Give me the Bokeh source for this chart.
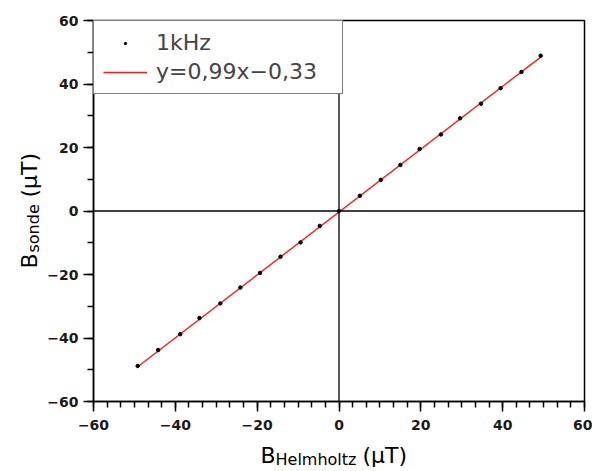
import math
from bokeh.plotting import figure
from bokeh.models import (Range1d, SingleIntervalTicker, Legend, LegendItem, Span)
from bokeh.layouts import row, column
from bokeh.core.properties import value
from bokeh.embed import file_html
from bokeh.resources import INLINE

# ---- data ----
b_helmholtz = [-49.2, -44.2, -38.8, -34.1, -29.0, -24.1, -19.3, -14.3, -9.4, -4.7,
               0.0, 5.1, 10.2, 15.0, 19.7, 24.9, 29.6, 34.7, 39.5, 44.6, 49.3]
b_sonde = [-48.8, -43.8, -38.8, -33.7, -29.1, -24.1, -19.5, -14.4, -9.9, -4.7,
           0.0, 4.8, 9.8, 14.5, 19.5, 24.1, 29.2, 33.8, 38.7, 43.8, 48.9]
fit_slope = 0.99
fit_intercept = -0.33
fit_x = [min(b_helmholtz), max(b_helmholtz)]
fit_y = [fit_slope * v + fit_intercept for v in fit_x]
series_label = "1kHz"
fit_label = "y=0,99x\u22120,33"
tick_values = [-60, -40, -20, 0, 20, 40, 60]
x_title = ["B", "Helmholtz", "(\u00b5T)"]
y_title = ["B", "sonde", "(\u00b5T)"]

# ---- layout (pixels) ----
TOTAL_W, TOTAL_H = 592, 471
FRAME_L, FRAME_R, FRAME_T, FRAME_B = 93, 584, 20, 401
LW = 44                       # left strip holding the y title
MW = TOTAL_W - LW             # main figure width
MH = 437                      # main figure height
BH = TOTAL_H - MH             # bottom strip holding the x title

p = figure(width=MW, height=MH, output_backend="svg", toolbar_location=None,
           x_range=Range1d(-60, 60), y_range=Range1d(-60, 60),
           min_border_left=FRAME_L - LW, min_border_right=TOTAL_W - FRAME_R,
           min_border_top=FRAME_T, min_border_bottom=MH - FRAME_B)
p.xgrid.visible = False
p.ygrid.visible = False
p.outline_line_color = "black"
p.outline_line_width = 1.5
p.outline_line_alpha = 1.0

p.xaxis.ticker = SingleIntervalTicker(interval=20, num_minor_ticks=6)
p.yaxis.ticker = SingleIntervalTicker(interval=20, num_minor_ticks=2)
overrides = {v: (("\u2212" + str(abs(v))) if v < 0 else str(v)) for v in tick_values}
for ax in (p.xaxis, p.yaxis):
    ax.major_label_overrides = overrides
    ax.axis_line_color = "black"
    ax.axis_line_width = 1.5
    ax.major_tick_line_color = "black"
    ax.major_tick_line_width = 1.5
    ax.minor_tick_line_color = "black"
    ax.minor_tick_line_width = 1.5
    ax.major_tick_in = 0
    ax.major_tick_out = 10
    ax.minor_tick_in = 0
    ax.minor_tick_out = 6
    ax.major_label_text_font = "DejaVu Sans"
    ax.major_label_text_font_size = "14px"
    ax.major_label_text_font_style = "bold"
    ax.major_label_text_color = "#1a1a1a"
p.xaxis.major_label_standoff = 8
p.yaxis.major_label_standoff = 5

p.add_layout(Span(location=0, dimension="height", line_color="black", line_width=1.3))
p.add_layout(Span(location=0, dimension="width", line_color="black", line_width=1.3))

fit_r = p.line(fit_x, fit_y, line_color="#ff1a1a", line_width=1.4)
pts_r = p.scatter(b_helmholtz, b_sonde, size=3.5, marker="circle",
                  fill_color="black", line_color="black")

legend = Legend(items=[LegendItem(label=series_label, renderers=[pts_r]),
                       LegendItem(label=fit_label, renderers=[fit_r])],
                location="top_left", margin=0, padding=9, spacing=4,
                glyph_width=44, glyph_height=6, label_standoff=9,
                label_width=177,
                label_text_font="DejaVu Sans", label_text_font_size="22px",
                border_line_color="black", border_line_width=1.5,
                background_fill_alpha=1.0)
p.add_layout(legend)

# ---- strips carrying the axis titles (with subscripts) ----
def strip(w, h, xr, yr):
    f = figure(width=w, height=h, output_backend="svg", toolbar_location=None,
               x_range=Range1d(*xr), y_range=Range1d(*yr),
               min_border=0, min_border_left=0, min_border_right=0,
               min_border_top=0, min_border_bottom=0)
    f.axis.visible = False
    f.grid.visible = False
    f.outline_line_color = None
    return f

BIG, SMALL = "22px", "16px"
FONT = value("DejaVu Sans")

# bottom strip: its frame is aligned with the main frame, so x runs in page pixels
bx = strip(MW, BH, (FRAME_L, FRAME_R), (TOTAL_H, MH))
bx.text(x=[260], y=[455], text=[x_title[0]], text_font=FONT,
        text_font_size=BIG, text_baseline="alphabetic", text_align="left", text_color="black")
bx.text(x=[275], y=[459], text=[x_title[1]], text_font=FONT,
        text_font_size=SMALL, text_baseline="alphabetic", text_align="left", text_color="black")
bx.text(x=[362], y=[455], text=[x_title[2]], text_font=FONT,
        text_font_size=BIG, text_baseline="alphabetic", text_align="left", text_color="black")

ly = strip(LW, TOTAL_H, (0, LW), (0, TOTAL_H))
ly.text(x=[29], y=[TOTAL_H - 268], text=[y_title[0]], text_font=FONT,
        text_font_size=BIG, text_baseline="alphabetic", text_align="left",
        angle=math.pi / 2, text_color="black")
ly.text(x=[33], y=[TOTAL_H - 252], text=[y_title[1]], text_font=FONT,
        text_font_size=SMALL, text_baseline="alphabetic", text_align="left",
        angle=math.pi / 2, text_color="black")
ly.text(x=[29], y=[TOTAL_H - 197], text=[y_title[2]], text_font=FONT,
        text_font_size=BIG, text_baseline="alphabetic", text_align="left",
        angle=math.pi / 2, text_color="black")

layout = row(ly, column(p, bx))
open("out.html", "w").write(file_html(layout, INLINE))
